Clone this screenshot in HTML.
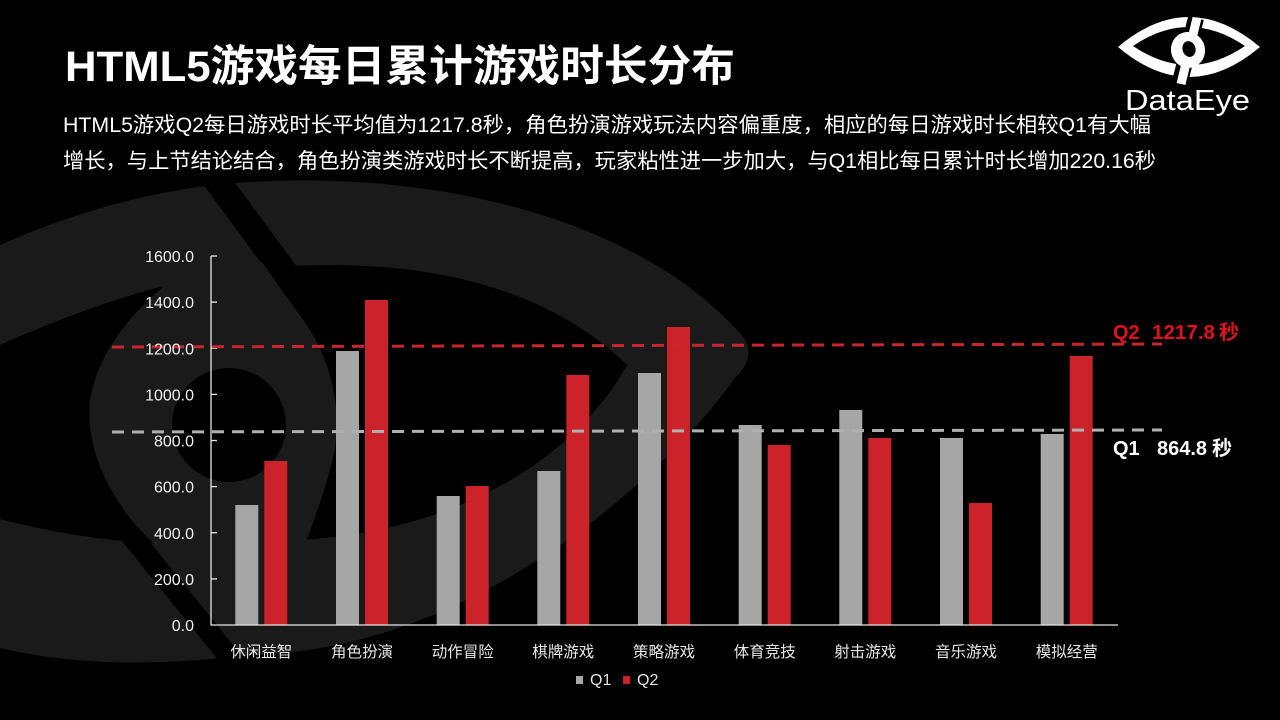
<!DOCTYPE html>
<html>
<head>
<meta charset="utf-8">
<style>
html,body{margin:0;padding:0;background:#000;}
body{width:1280px;height:720px;overflow:hidden;}
svg{display:block;}
text{font-family:"Liberation Sans","Noto Sans CJK SC","WenQuanYi Zen Hei",sans-serif;}
</style>
</head>
<body>
<svg width="1280" height="720" viewBox="0 0 1280 720" xmlns="http://www.w3.org/2000/svg">
  <rect x="0" y="0" width="1280" height="720" fill="#000"/>

  <!-- background watermark eye -->
  <g fill="#1a1a1a">
    <path fill-rule="evenodd" d="M735,328 C640,225 450,170 250,182 C100,190 -100,260 -300,450 C-120,670 80,675 250,655 C480,650 670,470 735,378 Q762,352 735,328 Z M627,365 C560,300 460,265 330,265 C180,265 50,310 -200,445 C0,540 150,555 300,540 C470,530 580,450 627,365 Z"/>
  </g>
  <polygon points="189,165 222,165 303,275 270,275" fill="#000"/>
  <polygon points="105,520 132,520 255,672 228,672" fill="#000"/>
  <path fill="#1a1a1a" d="M185,270 L262,262 L298,313 C335,360 345,420 330,470 C322,500 312,525 305,545 L330,620 L255,652 L133,522 C100,480 86,440 90,400 C100,340 150,295 185,270 Z"/>
  <circle cx="229" cy="425" r="57" fill="#000"/>

  <!-- title -->
  <text x="65" y="81" font-size="43" font-weight="bold" fill="#fff" textLength="670" lengthAdjust="spacingAndGlyphs">HTML5游戏每日累计游戏时长分布</text>
  <text x="63" y="132" font-size="21" fill="#fff" textLength="1088" lengthAdjust="spacingAndGlyphs">HTML5游戏Q2每日游戏时长平均值为1217.8秒，角色扮演游戏玩法内容偏重度，相应的每日游戏时长相较Q1有大幅</text>
  <text x="63" y="168" font-size="21" fill="#fff" textLength="1093" lengthAdjust="spacingAndGlyphs">增长，与上节结论结合，角色扮演类游戏时长不断提高，玩家粘性进一步加大，与Q1相比每日累计时长增加220.16秒</text>

  <!-- logo -->
  <path fill="#fff" fill-rule="evenodd" d="M1118,47 Q1189,-13 1260,47 Q1189,107 1118,47 Z M1133,46 Q1189,8 1245,46 Q1189,84 1133,46 Z"/>
  <line x1="1196" y1="18" x2="1179" y2="86" stroke="#000" stroke-width="16"/>
  <line x1="1197" y1="18" x2="1181" y2="84" stroke="#fff" stroke-width="9"/>
  <ellipse cx="1188" cy="50" rx="17" ry="18" fill="#fff" transform="rotate(-15 1188 50)"/>
  <ellipse cx="1189" cy="49" rx="6.5" ry="8" fill="#000" transform="rotate(-15 1189 49)"/>
  <text x="1125" y="110" font-size="29" fill="#fff" textLength="125" lengthAdjust="spacingAndGlyphs">DataEye</text>

  <!-- bars -->
  <g fill="#a6a6a6">
    <rect x="235.3" y="505" width="23" height="120"/>
    <rect x="336.0" y="351" width="23" height="274"/>
    <rect x="436.7" y="496" width="23" height="129"/>
    <rect x="537.3" y="471" width="23" height="154"/>
    <rect x="638.0" y="373" width="23" height="252"/>
    <rect x="738.7" y="425" width="23" height="200"/>
    <rect x="839.3" y="410" width="23" height="215"/>
    <rect x="940.0" y="438" width="23" height="187"/>
    <rect x="1040.7" y="434" width="23" height="191"/>
  </g>
  <g fill="#cc2229">
    <rect x="264.3" y="461" width="23" height="164"/>
    <rect x="365.0" y="300" width="23" height="325"/>
    <rect x="465.7" y="486" width="23" height="139"/>
    <rect x="566.3" y="375" width="23" height="250"/>
    <rect x="667.0" y="327" width="23" height="298"/>
    <rect x="767.7" y="445" width="23" height="180"/>
    <rect x="868.3" y="438" width="23" height="187"/>
    <rect x="969.0" y="503" width="23" height="122"/>
    <rect x="1069.7" y="356" width="23" height="269"/>
  </g>

  <!-- axes -->
  <g stroke="#e6e6e6" stroke-width="1.3">
    <line x1="211" y1="256" x2="211" y2="625.5"/>
    <line x1="211" y1="625" x2="1118" y2="625"/>
    <line x1="211" y1="256" x2="217" y2="256"/>
    <line x1="211" y1="302.1" x2="217" y2="302.1"/>
    <line x1="211" y1="348.25" x2="217" y2="348.25"/>
    <line x1="211" y1="394.4" x2="217" y2="394.4"/>
    <line x1="211" y1="440.5" x2="217" y2="440.5"/>
    <line x1="211" y1="486.6" x2="217" y2="486.6"/>
    <line x1="211" y1="532.75" x2="217" y2="532.75"/>
    <line x1="211" y1="578.9" x2="217" y2="578.9"/>
  </g>

  <!-- dashed average lines -->
  <line x1="112" y1="347" x2="1162" y2="344" stroke="#c8262d" stroke-width="3" stroke-dasharray="12 8"/>
  <line x1="112" y1="432" x2="1162" y2="430" stroke="#b0b0b0" stroke-width="3" stroke-dasharray="12 8"/>

  <!-- y labels -->
  <g font-size="16" fill="#f0f0f0" text-anchor="end">
    <text x="194" y="262">1600.0</text>
    <text x="194" y="308.1">1400.0</text>
    <text x="194" y="354.25">1200.0</text>
    <text x="194" y="400.4">1000.0</text>
    <text x="194" y="446.5">800.0</text>
    <text x="194" y="492.6">600.0</text>
    <text x="194" y="538.75">400.0</text>
    <text x="194" y="584.9">200.0</text>
    <text x="194" y="631">0.0</text>
  </g>

  <!-- category labels -->
  <g font-size="15.5" fill="#e6e6e6" text-anchor="middle">
    <text x="261.3" y="657">休闲益智</text>
    <text x="362.0" y="657">角色扮演</text>
    <text x="462.7" y="657">动作冒险</text>
    <text x="563.3" y="657">棋牌游戏</text>
    <text x="664.0" y="657">策略游戏</text>
    <text x="764.7" y="657">体育竞技</text>
    <text x="865.3" y="657">射击游戏</text>
    <text x="966.0" y="657">音乐游戏</text>
    <text x="1066.7" y="657">模拟经营</text>
  </g>

  <!-- legend -->
  <rect x="576" y="676" width="7" height="8" fill="#a6a6a6"/>
  <text x="590" y="685" font-size="16" fill="#e6e6e6">Q1</text>
  <rect x="623" y="676" width="7" height="8" fill="#cc2229"/>
  <text x="637" y="685" font-size="16" fill="#e6e6e6">Q2</text>

  <!-- average labels -->
  <g font-size="20" font-weight="bold" fill="#e0121b">
    <text x="1113" y="339">Q2</text>
    <text x="1152" y="339" textLength="63" lengthAdjust="spacingAndGlyphs">1217.8</text>
    <text x="1219" y="339">秒</text>
  </g>
  <g font-size="20" font-weight="bold" fill="#fff">
    <text x="1113" y="455">Q1</text>
    <text x="1157" y="455" textLength="50" lengthAdjust="spacingAndGlyphs">864.8</text>
    <text x="1212" y="455">秒</text>
  </g>
</svg>
</body>
</html>
